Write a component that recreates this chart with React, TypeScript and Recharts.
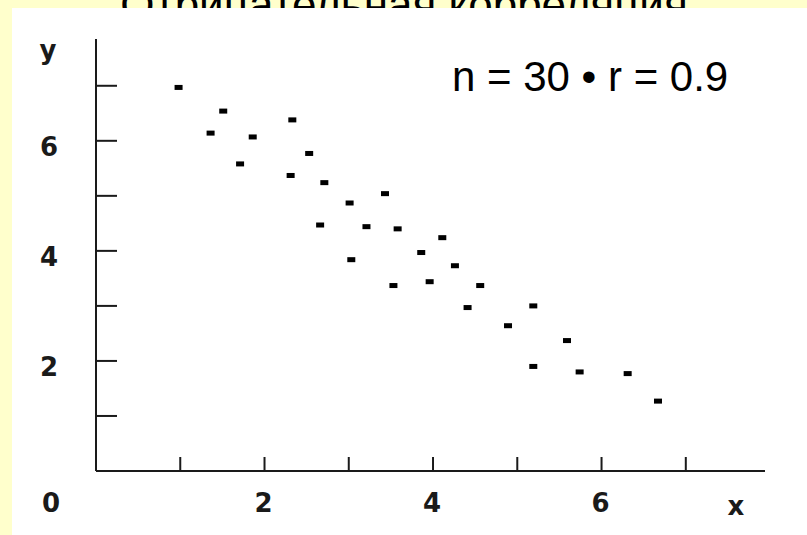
import React from "react"
import { ScatterChart, Scatter, XAxis, YAxis } from "recharts"

// observations (x, y)
const xValues = [
  0.98, 1.51, 1.36, 2.33, 1.86, 1.71, 2.53, 2.31, 2.71, 3.43,
  3.01, 2.66, 3.21, 3.58, 4.11, 3.86, 3.03, 3.53, 3.96, 4.26,
  4.56, 4.41, 5.19, 4.89, 5.59, 5.19, 5.74, 6.31, 6.67,
]
const yValues = [
  6.97, 6.54, 6.14, 6.38, 6.07, 5.58, 5.77, 5.37, 5.24, 5.04,
  4.87, 4.47, 4.44, 4.40, 4.24, 3.97, 3.84, 3.37, 3.44, 3.73,
  3.37, 2.97, 3.00, 2.64, 2.37, 1.90, 1.80, 1.77, 1.27,
]

const xTicks = [0, 1, 2, 3, 4, 5, 6, 7]
const yTicks = [0, 1, 2, 3, 4, 5, 6, 7]
const labelledTicks = [2, 4, 6]

const title = "Отрицательная корреляция"
const stats = "n = 30 • r = 0.9"

const points = xValues.map((x, i) => ({ x, y: yValues[i] }))

const INK = "#1a1a1a"
const tickFont = {
  fontFamily: "'DejaVu Sans', sans-serif",
  fontWeight: 700,
  fontSize: 26,
  fill: INK,
}

function YTick(props: any) {
  const { x, y, payload } = props
  if (payload.value === 0) return <g />
  return (
    <g>
      <line x1={x} x2={x + 21} y1={y} y2={y} stroke={INK} strokeWidth={2} />
      {labelledTicks.includes(payload.value) && (
        <text x={x - 47} y={y + 6} textAnchor="middle" dominantBaseline="central" {...tickFont}>
          {payload.value}
        </text>
      )}
    </g>
  )
}

function XTick(props: any) {
  const { x, y, payload } = props
  if (payload.value === 0) {
    return (
      <text x={x - 45} y={y + 32} textAnchor="middle" dominantBaseline="central" {...tickFont}>
        0
      </text>
    )
  }
  return (
    <g>
      <line x1={x} x2={x} y1={y} y2={y - 14} stroke={INK} strokeWidth={2} />
      {labelledTicks.includes(payload.value) && (
        <text x={x - 1} y={y + 32} textAnchor="middle" dominantBaseline="central" {...tickFont}>
          {payload.value}
        </text>
      )}
    </g>
  )
}

const Dot = (props: any) => (
  <rect x={props.cx - 4} y={props.cy - 2.5} width={8} height={5} fill="#000" />
)

export default function App() {
  return (
    <div
      style={{
        position: "absolute",
        left: 0,
        top: 0,
        width: 807,
        height: 535,
        background: "#FFFFCC",
        overflow: "hidden",
      }}
    >
      <svg width={807} height={535} style={{ position: "absolute", left: 0, top: 0 }}>
        <text
          x={404}
          y={20}
          textAnchor="middle"
          fontFamily="'Liberation Sans', Arial, sans-serif"
          fontSize={44}
          fill="#000"
        >
          {title}
        </text>
        <rect x={12} y={8} width={795} height={527} fill="#fff" />
        <text
          x={452}
          y={91}
          fontFamily="'Liberation Sans', Arial, sans-serif"
          fontSize={42}
          fill="#000"
        >
          {stats}
        </text>
      </svg>
      <div style={{ position: "absolute", left: 0, top: 0 }}>
        <ScatterChart width={807} height={535} margin={{ top: 39, right: 42, bottom: 63, left: 95 }}>
          <XAxis
            type="number"
            dataKey="x"
            domain={[0, 7.94]}
            ticks={xTicks}
            interval={0}
            height={1}
            tickSize={0}
            tickMargin={0}
            tickLine={false}
            axisLine={{ stroke: INK, strokeWidth: 2 }}
            tick={<XTick />}
            label={{
              value: "x",
              content: ({ viewBox }: any) => (
                <text
                  x={viewBox.x + viewBox.width - 29}
                  y={viewBox.y + 35}
                  textAnchor="middle"
                  dominantBaseline="central"
                  {...tickFont}
                >
                  x
                </text>
              ),
            }}
          />
          <YAxis
            type="number"
            dataKey="y"
            domain={[0, 7.85]}
            ticks={yTicks}
            interval={0}
            width={1}
            tickSize={0}
            tickMargin={0}
            tickLine={false}
            axisLine={{ stroke: INK, strokeWidth: 2 }}
            tick={<YTick />}
            label={{
              value: "y",
              content: ({ viewBox }: any) => (
                <text
                  x={viewBox.x - 47}
                  y={viewBox.y + 11}
                  textAnchor="middle"
                  dominantBaseline="central"
                  {...tickFont}
                >
                  y
                </text>
              ),
            }}
          />
          <Scatter data={points} shape={<Dot />} isAnimationActive={false} />
        </ScatterChart>
      </div>
    </div>
  )
}
